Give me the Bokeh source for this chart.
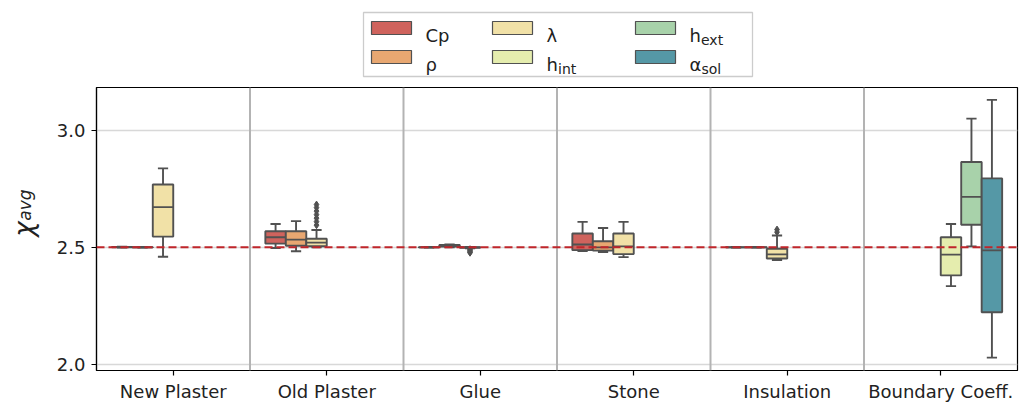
import numpy as np
from bokeh.plotting import figure
from bokeh.layouts import row, column
from bokeh.models import (Range1d, FixedTicker, Span, ColumnDataSource, PrintfTickFormatter)
from bokeh.core.properties import value
from bokeh.embed import file_html
from bokeh.resources import INLINE

# ---------------- data ----------------
categories = ["New Plaster", "Old Plaster", "Glue", "Stone", "Insulation", "Boundary Coeff."]
param_names = ["Cp", "ρ", "λ", "h", "h", "α"]
param_subs = ["", "", "", "int", "ext", "sol"]
colors = ["#cf635d", "#e8a771", "#f1e1a7", "#e5edae", "#a8d2aa", "#5598a6"]

# one entry per drawn box
box_cat = [0, 0, 0, 1, 1, 1, 2, 2, 2, 3, 3, 3, 4, 4, 4, 5, 5, 5]
box_param = [0, 1, 2, 0, 1, 2, 0, 1, 2, 0, 1, 2, 0, 1, 2, 3, 4, 5]
box_low = [2.499, 2.499, 2.460, 2.497, 2.483, 2.500, 2.499, 2.500, 2.496,
           2.484, 2.480, 2.458, 2.499, 2.499, 2.446, 2.334, 2.504, 2.028]
box_q1 = [2.500, 2.500, 2.546, 2.516, 2.507, 2.505, 2.500, 2.503, 2.498,
          2.488, 2.486, 2.471, 2.500, 2.500, 2.452, 2.380, 2.597, 2.222]
box_med = [2.501, 2.500, 2.672, 2.543, 2.533, 2.520, 2.500, 2.507, 2.500,
           2.512, 2.500, 2.504, 2.500, 2.500, 2.470, 2.469, 2.716, 2.487]
box_q3 = [2.502, 2.501, 2.769, 2.569, 2.569, 2.537, 2.501, 2.510, 2.501,
          2.559, 2.526, 2.559, 2.501, 2.501, 2.494, 2.543, 2.865, 2.795]
box_high = [2.503, 2.502, 2.838, 2.600, 2.612, 2.574, 2.502, 2.512, 2.502,
            2.609, 2.583, 2.609, 2.502, 2.502, 2.551, 2.600, 3.051, 3.131]

out_cat = [1, 1, 1, 1, 1, 1, 1, 2, 2, 2, 2, 2, 4, 4]
out_param = [2, 2, 2, 2, 2, 2, 2, 2, 2, 2, 2, 2, 2, 2]
out_val = [2.595, 2.610, 2.625, 2.640, 2.655, 2.670, 2.683,
           2.492, 2.488, 2.484, 2.480, 2.477, 2.565, 2.576]

reference_value = 2.5
y_ticks = [2.0, 2.5, 3.0]
y_label_main = "χ"
y_label_sub = "avg"

# ---------------- layout constants ----------------
FONT = "DejaVu Sans"
EDGE = "#515151"
TXT = "#222222"
W, H = 1032, 405
TOP_H = 85          # legend strip
LEFT_W = 48         # y-label strip
MAIN_W = W - LEFT_W
MAIN_H = H - TOP_H

n_hue = len(param_names)
bw = 0.8 / n_hue

# ---------------- main plot ----------------
p = figure(width=MAIN_W, height=MAIN_H, min_border_left=96 - LEFT_W, min_border_right=15,
           min_border_top=2, min_border_bottom=35,
           x_range=Range1d(-0.5, 5.5), y_range=Range1d(1.973, 3.184),
           output_backend="svg", toolbar_location=None)
p.background_fill_color = "white"
p.border_fill_color = "white"
p.outline_line_color = "black"
p.outline_line_width = 1.2
p.xgrid.visible = False
p.ygrid.ticker = FixedTicker(ticks=y_ticks)
p.ygrid.grid_line_color = "#d8d8d8"
p.ygrid.grid_line_width = 1.5

for i in range(len(categories) - 1):
    p.add_layout(Span(location=i + 0.5, dimension="height", line_color="#b3b3b3",
                      line_width=2))

for h in range(n_hue):
    idx = [k for k in range(len(box_cat)) if box_param[k] == h]
    xs = np.array([box_cat[k] + (h - (n_hue - 1) / 2) * bw for k in idx])
    src = ColumnDataSource(dict(
        x=xs, left=xs - bw / 2, right=xs + bw / 2,
        cl=xs - bw / 4, cr=xs + bw / 4,
        lo=[box_low[k] for k in idx], q1=[box_q1[k] for k in idx],
        med=[box_med[k] for k in idx], q3=[box_q3[k] for k in idx],
        hi=[box_high[k] for k in idx]))
    kw = dict(source=src, line_color=EDGE, line_width=1.9)
    p.segment(x0="x", y0="lo", x1="x", y1="q1", **kw)
    p.segment(x0="x", y0="q3", x1="x", y1="hi", **kw)
    p.segment(x0="cl", y0="lo", x1="cr", y1="lo", **kw)
    p.segment(x0="cl", y0="hi", x1="cr", y1="hi", **kw)
    p.quad(left="left", right="right", bottom="q1", top="q3", fill_color=colors[h], **kw)
    p.segment(x0="left", y0="med", x1="right", y1="med", **kw)

ox = [out_cat[k] + (out_param[k] - (n_hue - 1) / 2) * bw for k in range(len(out_cat))]
p.scatter(x=ox, y=out_val, marker="diamond", size=7, fill_color=EDGE, line_color=EDGE)

p.add_layout(Span(location=reference_value, dimension="width", line_color="#c0262b",
                  line_width=2, line_dash="8 4"))

p.xaxis.ticker = FixedTicker(ticks=list(range(len(categories))))
p.xaxis.major_label_overrides = {i: c for i, c in enumerate(categories)}
p.yaxis.ticker = FixedTicker(ticks=y_ticks)
p.yaxis.formatter = PrintfTickFormatter(format="%.1f")
for ax in (p.xaxis[0], p.yaxis[0]):
    ax.major_label_text_font = FONT
    ax.major_label_text_font_size = "18px"
    ax.major_label_text_color = TXT
    ax.minor_tick_line_color = None
    ax.major_tick_in = 0
    ax.major_tick_out = 5
    ax.major_tick_line_color = "black"
    ax.major_tick_line_width = 1.2
    ax.axis_line_color = "black"
    ax.axis_line_width = 1.2
p.xaxis.major_label_standoff = 5
p.yaxis.major_label_standoff = 6

# ---------------- legend strip (screen-like coordinates, y down) ----------------
leg = figure(width=W, height=TOP_H, x_range=Range1d(0, W), y_range=Range1d(TOP_H, 0),
             min_border=0, x_axis_location=None, y_axis_location=None,
             output_backend="svg", toolbar_location=None)
leg.outline_line_color = None
leg.grid.visible = False
leg.background_fill_color = "white"
leg.border_fill_color = "white"

leg.quad(left=[363], right=[752], top=[12], bottom=[76], fill_color="white",
         line_color="#cccccc", line_width=1.3)
col_x = [371, 492, 635]
row_y = [27.5, 56.5]
px = [col_x[i // 2] for i in range(n_hue)]
py = [row_y[i % 2] for i in range(n_hue)]
leg.quad(left=[x for x in px], right=[x + 40 for x in px],
         top=[y - 6.5 for y in py], bottom=[y + 6.5 for y in py],
         fill_color=colors, line_color=EDGE, line_width=1.2)
tx = [x + 54 for x in px]
ty = [y + 7 for y in py]
leg.text(x=tx, y=ty, text=param_names, text_align="left", text_baseline="alphabetic",
         text_font=value(FONT), text_font_size="18px", text_color=TXT)
sub_shift = [0, 0, 0, 11.5, 11.5, 12]
leg.text(x=[tx[i] + sub_shift[i] for i in range(n_hue)], y=[t + 4.5 for t in ty],
         text=param_subs, text_align="left", text_baseline="alphabetic",
         text_font=value(FONT), text_font_size="14px", text_color=TXT)

# ---------------- y-label strip ----------------
lab = figure(width=LEFT_W, height=MAIN_H, x_range=Range1d(0, LEFT_W),
             y_range=Range1d(MAIN_H, 0),
             min_border=0, x_axis_location=None, y_axis_location=None,
             output_backend="svg", toolbar_location=None)
lab.outline_line_color = None
lab.grid.visible = False
lab.background_fill_color = "white"
lab.border_fill_color = "white"
lab.text(x=[23], y=[245 - TOP_H], text=[y_label_main], angle=np.pi / 2,
         text_align="center", text_baseline="middle", text_font=value(FONT),
         text_font_size="26px", text_font_style="italic", text_color=TXT)
lab.text(x=[24], y=[218 - TOP_H], text=[y_label_sub], angle=np.pi / 2,
         text_align="center", text_baseline="middle", text_font=value(FONT),
         text_font_size="17px", text_font_style="italic", text_color=TXT)

layout = column(leg, row(lab, p, spacing=0), spacing=0)
open("out.html", "w").write(file_html(layout, INLINE))
